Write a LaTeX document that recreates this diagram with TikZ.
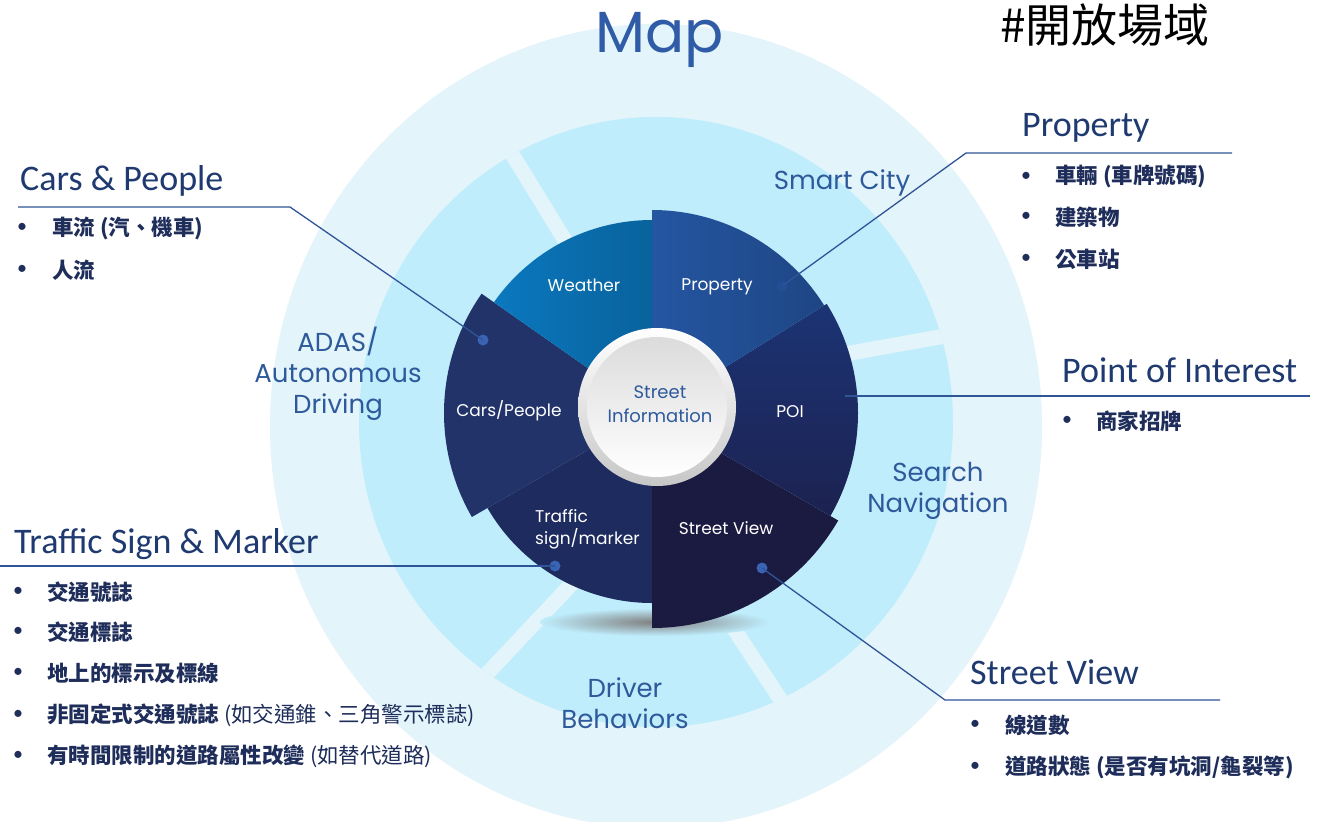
\documentclass[tikz,border=0pt]{standalone}
\usepackage{fontspec}
\setmainfont{Carlito}
\newfontfamily\cjk{Noto Sans CJK TC}
\newfontfamily\rnd{Poppins}
\usetikzlibrary{calc}
\definecolor{pale}{HTML}{E3F4FA}
\definecolor{ringcy}{HTML}{BFEDFC}
\definecolor{weatherc}{HTML}{0B7AC2}
\definecolor{propc}{HTML}{2557A4}
\definecolor{poic}{HTML}{1D3C86}
\definecolor{svc}{HTML}{1B1A40}
\definecolor{trafc}{HTML}{1D2B5E}
\definecolor{carsc}{HTML}{22336A}
\definecolor{linec}{HTML}{2F5597}
\definecolor{dotc}{HTML}{3A63B4}
\definecolor{headc}{HTML}{1F3A70}
\definecolor{itemc}{HTML}{1E2D5A}
\definecolor{ringc}{HTML}{2E5A9C}
\definecolor{mapc}{HTML}{2F5BA7}
\tikzset{
  head/.style={text=headc, font=\fontsize{36}{40}\selectfont, inner sep=0pt},
  item/.style={text=itemc, font=\cjk\bfseries\fontsize{21.5}{25}\selectfont, anchor=west, inner sep=0pt},
  bul/.style={text=itemc, font=\fontsize{20}{24}\selectfont, inner sep=0pt},
  conn/.style={draw=linec, line width=1.3pt},
  dotn/.style={circle, fill=dotc, inner sep=0pt, minimum size=11pt},
  wtxt/.style={text=white, font=\rnd\fontsize{17}{22}\selectfont, inner sep=0pt},
  rtxt/.style={text=ringc, font=\rnd\fontsize{26}{31}\selectfont, align=center, inner sep=0pt},
  gapline/.style={draw=pale, line width=15pt}
}
\begin{document}
\begin{tikzpicture}[x=1pt,y=1pt]
\useasboundingbox (0,0) rectangle (1318,-822);
\fill[white] (0,0) rectangle (1318,-822);
% background rings
\fill[pale] (656,-426) ellipse [x radius=386, y radius=402];
\fill[ringcy] (656,-422) ellipse [x radius=297, y radius=305];
\begin{scope}
\clip (656,-422) ellipse [x radius=297, y radius=305];
\draw[gapline] (485,-110) -- (620,-330);
\draw[gapline] (800,-362) -- (990,-328);
\draw[gapline] (580,-575) -- (420,-745);
\draw[gapline] (715,-600) -- (840,-790);
\end{scope}
% ring labels
\node[rtxt] (sc) at (842,-183) {Smart City};
\node[rtxt] (adas) at (338,-374) {ADAS/\\Autonomous\\Driving};
\node[rtxt] (sn) at (938,-491) {Search\\Navigation};
\node[rtxt] (db) at (625,-703) {Driver\\Behaviors};
% shadow
\shade[inner color=black!50, outer color=ringcy] (655,-622) ellipse [x radius=115, y radius=14];
% wheel
\coordinate (C) at (652,-413);
\fill[carsc] (C) -- ++(145:208) arc[start angle=145, end angle=210, radius=208] -- cycle;
\fill[trafc] (C) -- ++(210:190) arc[start angle=210, end angle=270, radius=190] -- cycle;
\fill[svc] (C) -- ++(270:215) arc[start angle=270, end angle=330, radius=215] -- cycle;
\begin{scope}
\clip (C) -- ++(-30:206) arc[start angle=-30, end angle=32, radius=206] -- cycle;
\shade[top color=poic, bottom color=svc!80!poic] (640,-200) rectangle (870,-530);
\end{scope}
\begin{scope}
\clip (C) -- ++(32:203) arc[start angle=32, end angle=90, radius=203] -- cycle;
\shade[shading angle=45, left color=propc, right color=propc!75!black] (640,-200) rectangle (870,-420);
\end{scope}
\begin{scope}
\clip (C) -- ++(90:193) arc[start angle=90, end angle=145, radius=193] -- cycle;
\shade[left color=weatherc, right color=weatherc!80!black] (480,-210) rectangle (655,-420);
\end{scope}
% center disc
\shade[top color=white, bottom color=black!22] (657,-407) circle [radius=79];
\shade[top color=black!14, bottom color=white] (657,-407) circle [radius=70];
\node[text=ringc, font=\rnd\fontsize{18}{24}\selectfont, align=center, inner sep=0pt] (si) at (660,-404) {Street\\Information};
% wheel labels
\node[wtxt] (lw) at (584,-285) {Weather};
\node[wtxt] (lp) at (717,-287) {Property};
\node[wtxt] (lc) at (509,-411) {Cars/People};
\node[wtxt] (lpoi) at (790,-412) {POI};
\node[wtxt, align=left, anchor=west] (lt) at (535,-529) {Traffic\\sign/marker};
\node[wtxt] (lsv) at (726,-528) {Street View};
% title
\node[text=mapc, font=\rnd\fontsize{58}{60}\selectfont, inner sep=0pt] (map) at (660,-40) {Map};
\node[text=black, font=\cjk\fontsize{46}{50}\selectfont, anchor=base west, inner sep=0pt] (tag) at (1000,-42) {\#開放場域};
% dots and corners
\node[dotn] (dcp) at (483,-340) {};
\node[dotn, fill=propc!90!black] (dprop) at (782,-286) {};
\node[dotn] (dts) at (555,-566) {};
\node[dotn] (dsv) at (762,-568) {};
\coordinate (poiend) at (845,-396);
\coordinate (cp0) at (18,-207);
\coordinate (cp1) at (290,-207);
\coordinate (pr0) at (1232,-153);
\coordinate (pr1) at (966,-153);
\coordinate (po0) at (1310,-396);
\coordinate (ts0) at (0,-566);
\coordinate (sv1) at (945,-700);
\coordinate (sv0) at (1220,-700);
\draw[conn] (cp0) -- (cp1) -- (dcp.center);
\draw[conn] (pr0) -- (pr1) -- (dprop.center);
\draw[conn] (po0) -- (poiend);
\draw[conn] (ts0) -- (dts.center);
\draw[conn] (dsv.center) -- (sv1) -- (sv0);
% headings
\node[head, anchor=base west] (hcp) at (20,-190) {Cars \& People};
\node[head, anchor=base west] (hts) at (14,-553) {Traffic Sign \& Marker};
\node[head, anchor=base west] (hpr) at (1022,-136) {Property};
\node[head, anchor=base west] (hpoi) at (1062,-382) {Point of Interest};
\node[head, anchor=base west] (hsv) at (970,-684) {Street View};
% lists
\node[bul] (b1) at (22,-228) {•}; \node[item] (i1) at (52,-228) {車流 (汽、機車)};
\node[bul] (b2) at (22,-270) {•}; \node[item] (i2) at (52,-270) {人流};
\node[bul] (b3) at (1026,-177) {•}; \node[item] (i3) at (1055,-177) {車輛 (車牌號碼)};
\node[bul] (b4) at (1026,-217) {•}; \node[item] (i4) at (1055,-217) {建築物};
\node[bul] (b5) at (1026,-259) {•}; \node[item] (i5) at (1055,-259) {公車站};
\node[bul] (b6) at (1067,-421) {•}; \node[item] (i6) at (1096,-421) {商家招牌};
\node[bul] (b7) at (18,-592) {•}; \node[item] (i7) at (47,-592) {交通號誌};
\node[bul] (b8) at (18,-632) {•}; \node[item] (i8) at (47,-632) {交通標誌};
\node[bul] (b9) at (18,-673) {•}; \node[item] (i9) at (47,-673) {地上的標示及標線};
\node[bul] (b10) at (18,-715) {•}; \node[item] (i10) at (47,-715) {非固定式交通號誌 {\mdseries (如交通錐、三角警示標誌)}};
\node[bul] (b11) at (18,-756) {•}; \node[item] (i11) at (47,-756) {有時間限制的道路屬性改變 {\mdseries (如替代道路)}};
\node[bul] (b12) at (975,-725) {•}; \node[item] (i12) at (1005,-725) {線道數};
\node[bul] (b13) at (975,-767) {•}; \node[item] (i13) at (1005,-767) {道路狀態 (是否有坑洞/龜裂等)};
\end{tikzpicture}
\end{document}
